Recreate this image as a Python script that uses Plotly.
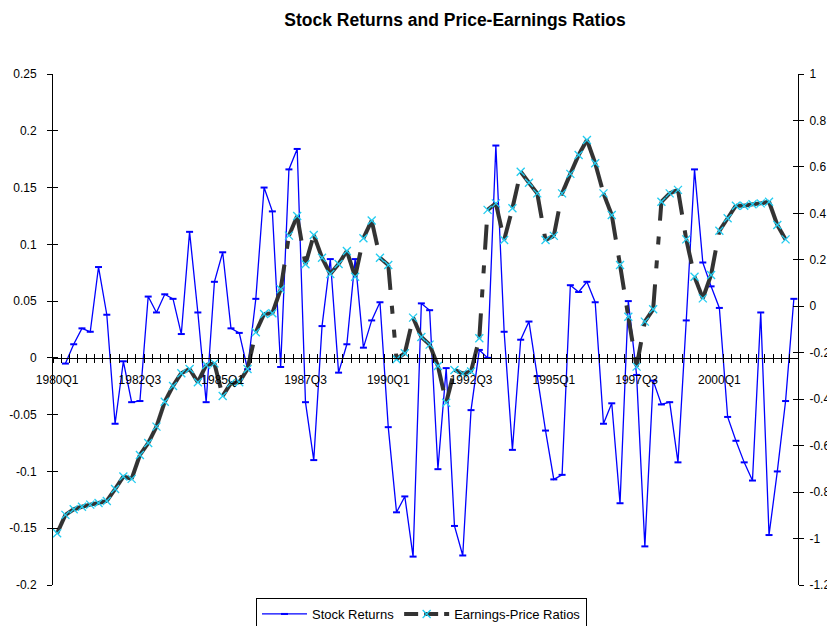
import plotly.graph_objects as go

# ---------------- data ----------------
quarters = [f"{y}Q{q}" for y in range(1980, 2003) for q in range(1, 5)][:90]

stock_returns = [
    None, -0.005, 0.012, 0.026, 0.023, 0.080, 0.038, -0.058, -0.003, -0.039,
    -0.038, 0.054, 0.040, 0.056, 0.052, 0.021, 0.111, 0.040, -0.039, 0.067,
    0.093, 0.026, 0.022, -0.010, 0.052, 0.150, 0.129, -0.008, 0.166, 0.184,
    -0.039, -0.090, 0.028, 0.087, -0.013, 0.012, 0.087, 0.009, 0.033, 0.049,
    -0.061, -0.136, -0.122, -0.175, 0.048, 0.042, -0.098, -0.009, -0.148, -0.174,
    -0.046, 0.007, 0.000, 0.187, 0.023, -0.081, 0.016, 0.032, -0.016, -0.064,
    -0.107, -0.103, 0.064, 0.058, 0.067, 0.049, -0.058, -0.040, -0.128, 0.050,
    -0.015, -0.166, -0.020, -0.041, -0.039, -0.092, 0.033, 0.166, 0.084, 0.063,
    0.044, -0.052, -0.073, -0.092, -0.108, 0.040, -0.156, -0.100, -0.038, 0.052,
]

earnings_price = [
    -0.977, -0.898, -0.874, -0.863, -0.854, -0.847, -0.838, -0.787, -0.733, -0.743,
    -0.640, -0.589, -0.518, -0.411, -0.343, -0.288, -0.270, -0.327, -0.253, -0.246,
    -0.386, -0.331, -0.327, -0.270, -0.112, -0.033, -0.030, 0.073, 0.304, 0.389,
    0.181, 0.307, 0.209, 0.139, 0.182, 0.238, 0.127, 0.293, 0.369, 0.209,
    0.178, -0.228, -0.202, -0.049, -0.132, -0.165, -0.257, -0.415, -0.274, -0.290,
    -0.281, -0.138, 0.415, 0.443, 0.285, 0.422, 0.579, 0.532, 0.486, 0.285,
    0.303, 0.486, 0.570, 0.651, 0.716, 0.616, 0.486, 0.393, 0.178, -0.045,
    -0.260, -0.066, -0.013, 0.450, 0.486, 0.501, 0.288, 0.127, 0.034, 0.135,
    0.325, 0.379, 0.433, 0.433, 0.439, 0.443, 0.450, 0.350, 0.288, None,
]

left_ticks = [-0.2, -0.15, -0.1, -0.05, 0, 0.05, 0.1, 0.15, 0.2, 0.25]
left_tick_text = ["-0.2", "-0.15", "-0.1", "-0.05", "0", "0.05", "0.1", "0.15", "0.2", "0.25"]
right_ticks = [-1.2, -1.0, -0.8, -0.6, -0.4, -0.2, 0, 0.2, 0.4, 0.6, 0.8, 1.0]
right_tick_text = ["-1.2", "-1", "-0.8", "-0.6", "-0.4", "-0.2", "0", "0.2", "0.4", "0.6", "0.8", "1"]
label_step = 10

# ---------------- figure ----------------
FONT = "Liberation Sans, Arial, sans-serif"
PAGE_OFF = 8            # default body margin of the html page
W, H = 835 - PAGE_OFF, 626 - PAGE_OFF

n = len(quarters)
xs = list(range(n))
x_range = [-0.5, n - 0.5]
left_range = [-0.2, 0.25]
right_range = [-1.2, 1.0]
zero_pos = (0 - left_range[0]) / (left_range[1] - left_range[0])
label_idx = list(range(0, n, label_step))
boundaries = [i - 0.5 for i in range(n + 1)]

EP_DASH = "25px,16px,8px,16px,8px,16px"
EP_COLOR = "#333333"
CYAN = "#22CCF0"

fig = go.Figure()

fig.add_trace(go.Scatter(
    x=xs, y=stock_returns, name="Stock Returns", mode="lines+markers",
    line=dict(color="#0000FF", width=1.3),
    marker=dict(symbol="line-ew", size=5, line=dict(color="#0000FF", width=2)),
    connectgaps=False, hoverinfo="skip",
))

fig.add_trace(go.Scatter(
    x=[None], y=[None], name="Earnings-Price Ratios", mode="lines+markers",
    line=dict(color=EP_COLOR, width=4, dash="14px,6px"),
    marker=dict(symbol="x-thin", size=8, line=dict(color=CYAN, width=1.3)),
    yaxis="y2",
))

for i in range(n - 1):
    a, b = earnings_price[i], earnings_price[i + 1]
    if a is None or b is None:
        continue
    fig.add_trace(go.Scatter(
        x=[xs[i], xs[i + 1]], y=[a, b], mode="lines", yaxis="y2",
        line=dict(color=EP_COLOR, width=4, dash=EP_DASH),
        showlegend=False, hoverinfo="skip",
    ))

fig.add_trace(go.Scatter(
    x=xs, y=earnings_price, mode="markers", yaxis="y2",
    marker=dict(symbol="x-thin", size=8, line=dict(color=CYAN, width=1.3)),
    showlegend=False, hoverinfo="skip",
))

fig.add_trace(go.Scatter(x=[None], y=[None], xaxis="x2", yaxis="y3", showlegend=False, hoverinfo="skip"))
fig.add_trace(go.Scatter(x=[None], y=[None], xaxis="x2", yaxis="y4", showlegend=False, hoverinfo="skip"))

tickfont = dict(family=FONT, size=12, color="black")

fig.update_layout(
    width=W, height=H,
    margin=dict(l=52.5 - PAGE_OFF, r=W - (798 - PAGE_OFF), t=74 - PAGE_OFF,
                b=H - (585 - PAGE_OFF), autoexpand=False),
    paper_bgcolor="white", plot_bgcolor="white",
    font=dict(family=FONT, size=12, color="black"),
    title=dict(text="<b>Stock Returns and Price-Earnings Ratios</b>",
               font=dict(family=FONT, size=17.5, color="black"),
               x=(455 - PAGE_OFF) / W, xref="container", xanchor="center",
               y=1 - (20 - PAGE_OFF) / H, yref="container", yanchor="middle"),
    showlegend=True,
    legend=dict(orientation="h", xref="container", yref="container",
                x=(421.5 - PAGE_OFF) / W, xanchor="center",
                y=1 - (614 - PAGE_OFF) / H, yanchor="middle",
                bordercolor="black", borderwidth=1, bgcolor="white",
                font=dict(family=FONT, size=13, color="black"),
                itemwidth=45, tracegroupgap=0),
    xaxis=dict(
        range=x_range, anchor="free", position=zero_pos,
        tickmode="array", tickvals=label_idx, ticktext=[quarters[i] for i in label_idx],
        ticks="", showline=True, linecolor="black", linewidth=1,
        showgrid=False, zeroline=False, tickfont=tickfont, ticklabelstandoff=11,
        minor=dict(tickmode="array", tickvals=boundaries, ticks="outside",
                   ticklen=4, tickwidth=1, tickcolor="black", showgrid=False),
    ),
    xaxis2=dict(
        range=x_range, overlaying="x", anchor="free", position=zero_pos, side="bottom",
        tickmode="array", tickvals=boundaries, ticks="inside", ticklen=4,
        tickwidth=1, tickcolor="black", showticklabels=False,
        showline=False, showgrid=False, zeroline=False,
    ),
    yaxis=dict(
        range=left_range, tickmode="array", tickvals=left_ticks, ticktext=left_tick_text,
        ticks="outside", ticklen=5, tickwidth=1, tickcolor="black",
        showline=True, linecolor="black", linewidth=1, showgrid=False, zeroline=False,
        tickfont=tickfont, anchor="x", ticklabelstandoff=8,
    ),
    yaxis2=dict(
        range=right_range, overlaying="y", side="right", anchor="x",
        tickmode="array", tickvals=right_ticks, ticktext=right_tick_text,
        ticks="outside", ticklen=5, tickwidth=1, tickcolor="black",
        showline=True, linecolor="black", linewidth=1, showgrid=False, zeroline=False,
        tickfont=tickfont, ticklabelstandoff=3,
    ),
    yaxis3=dict(
        range=left_range, overlaying="y", side="left", anchor="x",
        tickmode="array", tickvals=left_ticks, ticks="inside", ticklen=5,
        tickwidth=1, tickcolor="black", showticklabels=False,
        showline=False, showgrid=False, zeroline=False,
    ),
    yaxis4=dict(
        range=right_range, overlaying="y", side="right", anchor="x",
        tickmode="array", tickvals=right_ticks, ticks="inside", ticklen=5,
        tickwidth=1, tickcolor="black", showticklabels=False,
        showline=False, showgrid=False, zeroline=False,
    ),
)

fig.write_html("out.html")
